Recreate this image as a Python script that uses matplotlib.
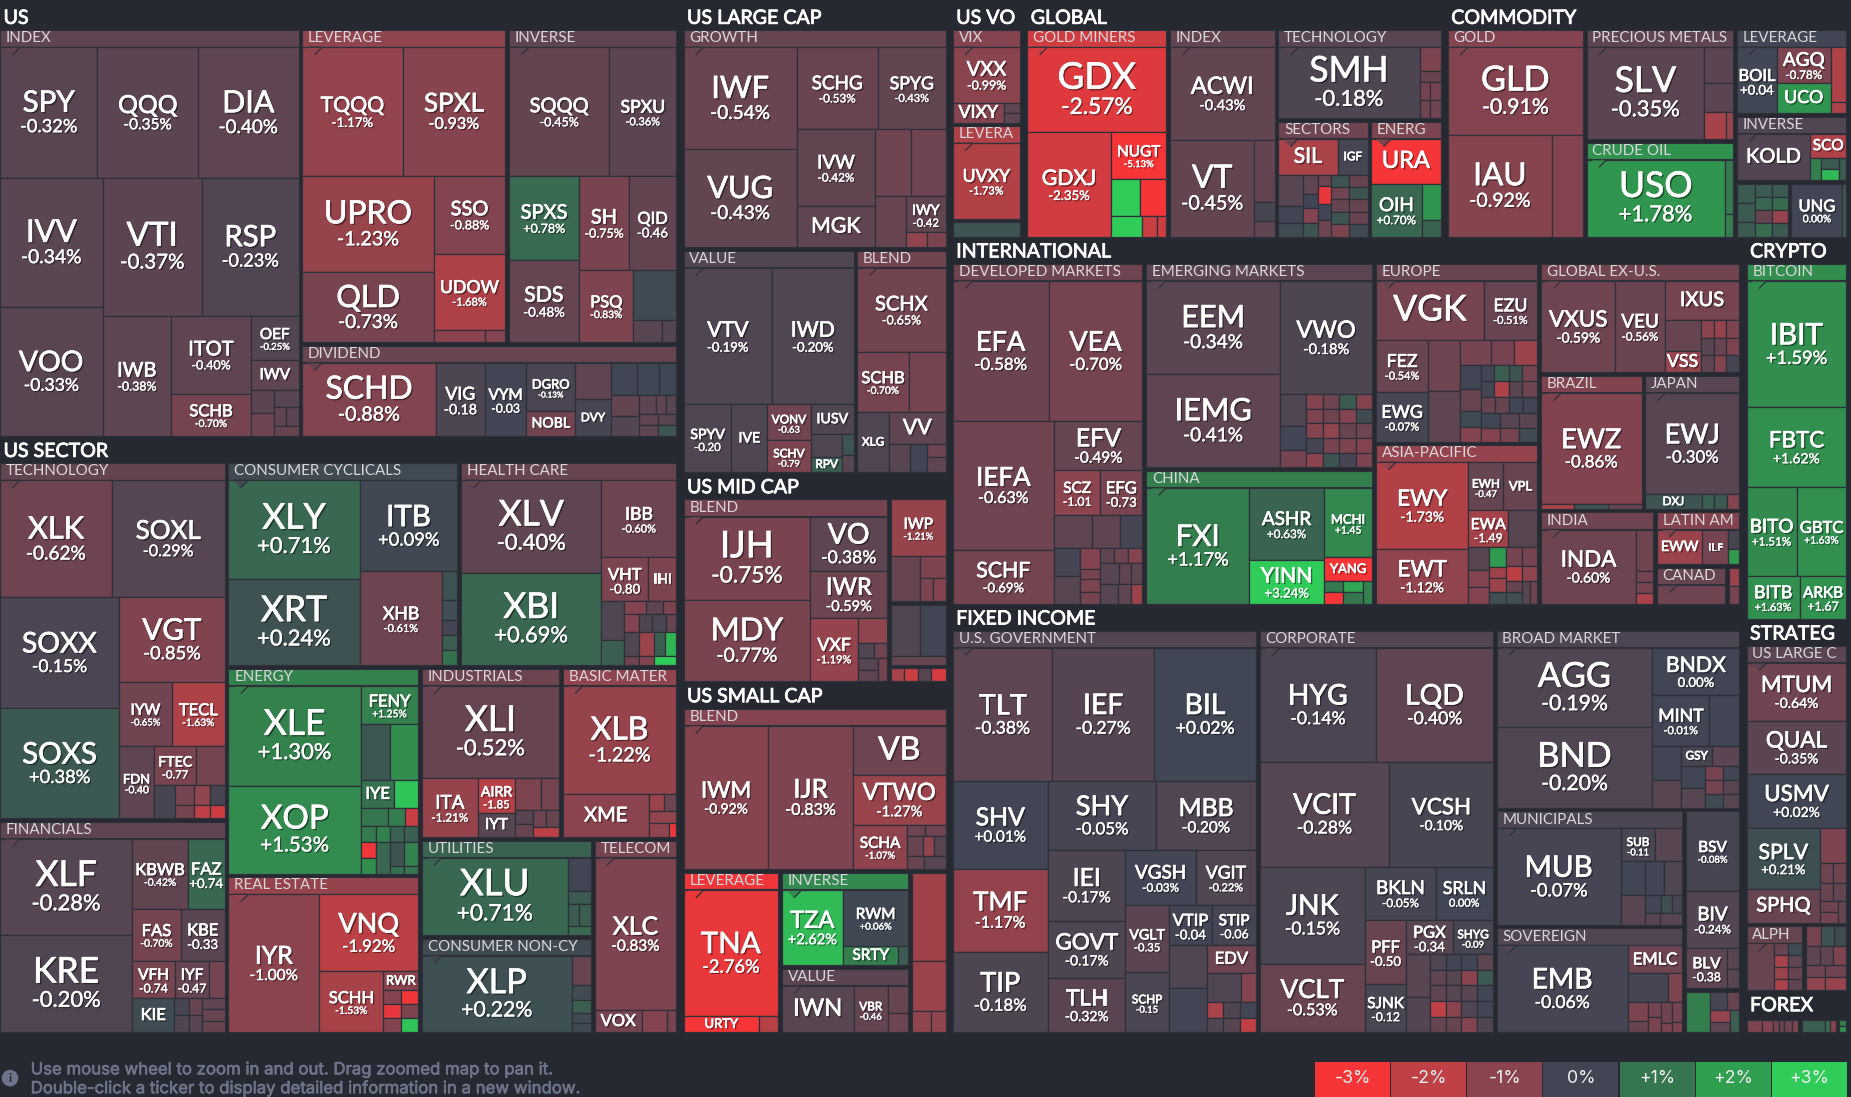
# -*- coding: utf-8 -*-
import matplotlib
matplotlib.use('Agg')
import matplotlib.pyplot as plt
import matplotlib.patheffects as pe
from matplotlib.patches import Rectangle, Polygon, Circle
import numpy as np

# tree helpers: a tile is (ticker, size, change %), sizes only matter relative to siblings
def H(*kids):
    return ('h', kids)

def V(*kids):
    return ('v', kids)

def u(size, change):
    return ('', size, change)

def G(title, size, change, kid):
    return {'title': title, 'size': size, 'change': change, 'kid': kid}

def S(title, size, kid, strip=18.5):
    return {'section': title, 'size': size, 'kid': kid, 'strip': strip}

# ---------- US
us_index = V(H(('SPY', 90, -.32), ('QQQ', 93, -.35), ('DIA', 93, -.40)),
             H(V(('IVV', 94, -.34), ('VOO', 94, -.33)),
               V(H(('VTI', 97, -.37), ('RSP', 95, -.23)),
                 H(('IWB', 58, -.38), V(('ITOT', 44, -.40), ('SCHB', 24, -.70)),
                   V(('OEF', 15, -.25), ('IWV', 10, -.40),
                     H(V(u(3.8, -.35), u(3.8, -.6)), V(u(3, -.3), H(u(1.6, -.4), u(1.6, -.35)), u(1.8, -.5))))))))
us_leverage = V(H(('TQQQ', 90, -1.17), ('SPXL', 92, -.93)),
                H(V(('UPRO', 89, -1.23), ('QLD', 64, -.73)),
                  V(('SSO', 39, -.88), ('UDOW', 38, -1.68), H(u(4.2, -1.0), u(1.7, -.9)))))
us_inverse = V(H(('SQQQ', 90, -.45), ('SPXU', 60, -.36)),
               H(V(('SPXS', 41, .78), ('SDS', 40, -.48)),
                 V(H(('SH', 32, -.75), ('QID', 31, -.46)),
                   H(('PSQ', 27, -.83), V(u(15, .1), H(u(4.5, -.3), u(2.2, -.25)))))))
us_dividend = H(('SCHD', 68, -.88), ('VIG', 25, -.18), ('VYM', 21, -.03),
                V(('DGRO', 16.4, -.13), ('NOBL', 8.6, -.65)), V(u(9, -.4), ('DVY', 9, -.05)),
                V(H(u(6, .02), u(4.9, .05), u(4, .05)),
                  H(V(u(4, -.45), u(4, -.25)),
                    V(H(u(2.2, -.35), u(1.4, -.4), u(1.3, -.3)), H(u(1.4, -.4), u(1.4, -.3)), H(u(1.5, -.4), u(1.4, .35))))))

tech = V(H(('XLK', 92, -.62), ('SOXL', 93, -.29)),
         H(V(('SOXX', 93, -.15), ('SOXS', 92, .38)),
           V(('VGT', 63, -.85),
             H(V(('IYW', 24, -.65)), ('TECL', 24, -1.63)),
             H(('FDN', 18, -.40),
               V(H(('FTEC', 11.5, -.77), u(8, -.7)),
                 H(u(4.8, -.1), V(u(2.7, -.7), u(1.8, -.7)),
                   V(H(u(2.1, -1.1), u(2.1, -.1)), H(u(1.4, -2.0), u(1.4, -2.3)))))))))
financials = H(V(('XLF', 89, -.28), ('KRE', 89, -.20)),
               V(H(('KBWB', 27, -.42), ('FAZ', 18, .74)),
                 H(('FAS', 17.6, -.70), ('KBE', 16, -.33)),
                 H(('VFH', 11, -.74), ('IYF', 9, -.47), u(4, -.7)),
                 H(('KIE', 10, .15), V(u(1.8, -.1), u(1.8, -.2)), V(u(1.5, -.5), u(1.5, -.3)), V(u(1.8, -.4), u(1.8, -.5), u(1.8, -.5)))))
cyclicals = H(V(('XLY', 92, .71), ('XRT', 80, .24)),
              V(('ITB', 63, .09),
                H(('XHB', 55, -.61), V(u(3, .25), u(2.1, .2), u(1.6, -.05), u(1.6, .5), u(1.6, .9)))))
health = H(V(('XLV', 90, -.40), ('XBI', 90, .69)),
           V(('IBB', 40, -.60), H(('VHT', 14, -.80), ('IHI', 8.6, -.8)),
             H(V(u(6, -.2), u(4, .5)),
               V(H(u(1.9, -.9), u(1.5, -.4), u(1.2, -.8)),
                 H(u(1.9, -.9), u(1.7, -.2), u(1.8, -.15), u(1.4, -.5)),
                 H(u(2.4, -.2), u(2.4, -1.3), u(1.9, .5), u(1.8, 2.5)),
                 H(u(1, -.6), u(1, -.9), u(1.5, 3))))))
energy = H(V(('XLE', 91, 1.30), ('XOP', 80, 1.53)),
           V(('FENY', 15, 1.25), H(u(11, .35), u(10.8, 1.6)), H(('IYE', 6.4, .9), u(4.6, 2.8)),
             H(u(3.4, 1.0), u(2.1, 1.2), u(1.6, -2.2)),
             H(V(u(1.65, 1.1), u(1.65, -2.9), u(1.65, 1.6)), V(u(1.6, 1.3), u(3, .7)),
               V(u(1.6, .6), u(2.3, .3), u(.7, .9)), V(u(1.6, .5), u(2.3, 1.3), u(.7, 1.0)))))
industrials = V(('XLI', 86, -.52),
                H(('ITA', 22.5, -1.21), V(('AIRR', 8.7, -1.85), ('IYT', 6, -.3)),
                  V(H(u(5.7, -.8), u(3.9, -.7)),
                    H(V(u(1.7, -.3), u(1.6, -.5)), V(H(u(1.5, -.6), u(1.5, -.5)), u(1.8, -1.9))))))
basic = V(('XLB', 85.5, -1.22),
          H(('XME', 25.5, -1.0),
            V(H(u(1.7, -1.3), u(1.5, -.6)), u(2.3, -1.1), H(u(1.9, -1.1), u(.7, -2.8)))))
utilities = H(('XLU', 79, .71), V(u(5.4, .0), u(2.2, .4), H(u(1.8, .45), u(1.8, .5)), u(1.4, .7)))
consumer_nc = H(('XLP', 79, .22), V(u(3.9, -.5), u(2, .15), u(1.7, .5), u(1.4, .1), u(1.2, .1)))
telecom = V(('XLC', 86, -.83), H(('VOX', 7.2, -.7), u(3.8, -.9), u(1.5, -.7)))
real_estate = H(('IYR', 87, -1.00),
                V(('VNQ', 53, -1.92),
                  H(('SCHH', 27, -1.53),
                    V(('RWR', 4.4, -1.0),
                      H(V(u(1.7, -.9), u(1.7, -2.7), u(1.7, -.9)), V(u(1.7, -2.9), u(1.7, -.8), u(1.7, 2.8)))))))

# ---------- large / mid / small
growth = H(V(('IWF', 81, -.54), ('VUG', 78, -.43)),
           V(H(('SCHG', 47, -.53), ('SPYG', 39, -.43)),
             H(V(('IVW', 42, -.42), ('MGK', 23, -.4)),
               V(H(u(17, -.6), u(16, -.6)),
                 H(u(11, -.5), V(('IWY', 10, -.42), H(u(2.3, -1.1), u(2, -.8))))))))
lc_value = V(H(('VTV', 85, -.19), ('IWD', 78, -.20)),
             H(('SPYV', 23, -.20), ('IVE', 17, -.2), V(('VONV', 11, -.63), ('SCHV', 10, -.79)),
               V(('IUSV', 9, -.2), H(V(u(5, -.2), ('RPV', 3.5, .5)), V(u(1.6, .3), u(1.4, -.3))))))
lc_blend = V(('SCHX', 50, -.65), H(('SCHB', 21, -.70), u(15, -.7)),
             H(('XLG', 13, -.2), V(('VV', 12.4, -.4),
               H(u(4, -.3), u(3.1, 0), V(u(1.6, -.6), u(2, -.4))))))
mid_blend = H(V(('IJH', 73, -.75), ('MDY', 71, -.77)),
              V(('VO', 29, -.38), ('IWR', 25, -.59),
                H(('VXF', 21, -1.19),
                  V(u(5, -1.1), H(u(1.6, -.2), u(1.4, -.6)),
                    H(V(u(1.7, -.3), u(1.5, -.4)), u(1.5, -.7))))))
mid_a = V(('IWP', 19, -1.21), H(u(8, -.5), V(u(3.4, -.8), H(u(1.8, -.8), u(1.8, -.9)))))
mid_b = V(H(u(8.7, -.2), u(7.6, 0)), u(2.6, -.5))
mid_c = H(u(1, -1.5), u(1, -2.2), u(1, -.3), u(1.1, -2.4))
small_blend = H(('IWM', 85, -.92), ('IJR', 85, -.83),
                V(('VB', 32, -.6), ('VTWO', 32, -1.27),
                  H(('SCHA', 17, -1.07),
                    V(H(u(1.4, -.6), u(1.6, -.6)), H(u(2.2, -.5), u(1.6, -1.1), u(1.6, -.3)), H(u(1.6, -.5), u(2, -.3))))))
small_lev = V(('TNA', 84, -2.76), H(('URTY', 8.8, -3), u(2.2, -1.8)))
small_inv = H(('TZA', 32, 2.62), V(('RWM', 25, .06), H(('SRTY', 7.4, 1.2), u(1.3, .4))))
small_val = H(('IWN', 23.4, -.3), ('VBR', 11, -.46), V(u(3.9, -.5), u(2.7, -.6)))
small_other = V(u(17.5, -1.4), u(10, -1.3), H(u(2.4, -1.1), u(1.9, -1.1)))

# ---------- volatility, global, commodity
vix = V(('VXX', 26, -.99), H(('VIXY', 7, -.9), V(u(1.1, -.4), u(1.1, -.4))))
vol_lev = ('UVXY', 59, -1.73)
vol_other = u(10, .3)
gold_miners = V(('GDX', 83, -2.57),
                H(('GDXJ', 61, -2.35),
                  V(('NUGT', 18, -5.13), H(u(7.7, 3), u(6.8, -3)), H(u(4.5, 3), u(2.2, -2.2), u(1.4, -2.2)))))
global_index = V(('ACWI', 68, -.43), H(('VT', 57, -.45), V(u(8.7, -.45), u(2.7, -.1), u(2.2, -.4))))
global_tech = H(('SMH', 72, -.18), V(u(3.6, -.8), u(1.6, -.5), H(u(1.35, -.7), u(1.35, -.7)), H(u(1.35, -.6), u(1.35, -.6))))
global_sect = V(H(('SIL', 14, -1.6), ('IGF', 7, -.05)),
                H(V(u(5.2, -.3), u(2.7, 0), u(2.3, .15)),
                  V(u(1.8, -.4), u(1.3, 0), u(1.4, -.9), u(1.3, .3)),
                  V(u(1, -.6), u(1.5, -2.8), u(1.4, 0), u(1.4, -.6)),
                  V(H(u(1.5, .3), u(1.5, -.5)), H(u(1.5, -.6), u(1.5, .3)), H(u(1.5, -.5), u(1.5, -.5)),
                    H(u(1.5, .3), u(1.5, -.5)), H(u(1.5, -.8), u(1.5, .1)))))
global_energy = V(('URA', 21, -3), H(('OIH', 18, .70), V(u(4.6, 1.8), u(2.1, .6))))
gold = V(('GLD', 83, -.91), H(('IAU', 74, -.92), u(22, -.9)))
precious = H(('SLV', 76, -.35), V(u(7.2, -.35), u(6, -.35), H(u(4.1, -1.5), u(1.4, -1.2))))
crude = H(('USO', 73, 1.78), V(u(3.1, 1.1), u(1.3, 1.2)))
comm_lev = H(('BOIL', 19, .04), V(('AGQ', 13.5, -.78), ('UCO', 11.7, 1.8)), V(u(6.1, -1.7), u(1.3, -1.6)))
comm_inv = H(('KOLD', 21, -.25), V(('SCO', 5.4, -1.7), H(u(1.5, 1.2), V(u(1.2, .4), u(1.2, 2.6)), u(1, .4))))
comm_a = H(V(u(2.3, .4), u(2.2, .4), u(1.7, .4)),
           V(u(1.5, .4), u(1.5, .7), u(1.5, -.5), u(1.5, .8)),
           V(u(1.4, .4), u(1.4, .8), u(1.4, -1.2), u(1.4, .4)))
comm_b = H(('UNG', 17.2, 0), u(1.3, .4))

# ---------- international
developed = V(H(('EFA', 94, -.58), ('VEA', 92, -.70)),
              H(V(('IEFA', 91, -.63), ('SCHF', 38, -.69)),
                V(('EFV', 30, -.49), H(('SCZ', 14.4, -1.01), ('EFG', 13.3, -.73)),
                  H(u(8.7, -.4), u(6.4, -.4), u(5.3, -.05)),
                  H(V(u(5, -.05), u(5, -.3)), V(u(2.9, -.9), u(1.5, -.7), u(1.7, -.8), u(1.7, -.7)),
                    V(H(u(1.4, -.4), u(1.5, -.6), u(1.5, -.9)), H(u(2.7, -.3), u(1.8, -.4), u(1.6, -.4)),
                      H(u(2.5, -.3), u(1.7, -.4), u(1.6, -1.3)))))))
emerging = H(V(('EEM', 88, -.34), ('IEMG', 88, -.41)),
             V(('VWO', 74, -.18),
               H(V(u(5.9, -.2), u(4.4, -.02), u(3.1, -.7)),
                 V(H(u(1.7, -.9), u(1.7, -.6), u(1.7, .4), u(1.7, -.9)),
                   H(u(1.7, -.8), u(1.7, -.6), u(1.7, -.9), u(1.7, .1)),
                   H(u(1.7, -.9), u(1.7, -1.1), u(1.7, -.5), u(1.7, -.6)),
                   H(u(1.7, -.05), u(1.7, -.7), u(1.7, -.8), u(1.7, -.9)),
                   H(u(1.7, -1.0), u(1.7, .3), u(1.7, -.05), u(1.7, -.8))))))
china = H(('FXI', 82, 1.17), V(('ASHR', 37, .63), ('YINN', 22, 3.24)),
          V(('MCHI', 23, 1.45), ('YANG', 7.8, -3),
            H(V(u(1.5, 1.1), u(1.5, -3)), V(u(1.6, 2.2), u(1.6, 1.0)), u(1.4, 1.3))))
europe = V(H(('VGK', 44, -.7), ('EZU', 22, -.51)),
           H(V(('FEZ', 19, -.54), ('EWG', 18, -.07)), V(u(11, -.6), u(11, -.4)),
             V(H(u(5.3, -.7), u(4, -.7), u(4, -1.3)),
               H(V(u(3.6, .0), u(3.2, -.5), u(2.4, .1), u(2.2, -.9)),
                 V(H(u(1.5, -.02), u(1.6, .5), u(1.5, .3), u(1.7, -.7)),
                   H(u(1.5, 0), u(1.6, -1.7), u(1.5, -.3), u(1.7, -.6)),
                   H(u(1.6, -.5), u(1.6, -.5), u(1.6, -.02), u(1.6, .0)),
                   H(u(1.9, .02), u(1.9, -.3), u(1.9, -.3)),
                   H(u(1.8, -.9), u(1.8, -.7), u(1.8, .1)))))))
asia = H(V(('EWY', 54, -1.73), ('EWT', 34, -1.12)),
         V(H(('EWH', 11.4, -.47), ('VPL', 11, -.5)), H(('EWA', 10, -1.49), u(7.3, -.3)),
           H(V(u(3.1, -.3), u(2.3, -.9), u(2.3, -.9)), V(u(2.3, 1.9), u(1.4, -1.4), u(1.6, -1.3), u(1.4, .2)),
             V(u(2, -.7), u(1.5, -1.9), u(1.2, -.5), u(1.2, .2)),
             V(u(2, -.7), u(1.5, -1.1), H(u(1.2, -.3), u(1.2, -.6))))))
ex_us = H(('VXUS', 48.5, -.59), ('VEU', 32, -.56),
          V(('IXUS', 21, -.7),
            H(V(u(8, -.5), ('VSS', 5.4, -1.2)),
              V(H(u(1.6, -1.0), u(1.6, -1.2), u(1.6, -.8)), H(u(1.6, -.3), u(1.6, -.5), u(1.6, -.8)),
                H(u(1.6, -.4), u(1.6, -.9), u(1.6, -.05))))))
brazil = V(('EWZ', 83, -.86), H(u(1.2, -1.6), u(1.2, .3), u(1.2, -.5)))
japan = V(('EWJ', 70, -.30), H(('DXJ', 6, .3), u(1.3, .5), u(1.4, .4), u(1.3, -.9)))
india = H(('INDA', 49, -.60), V(u(5.1, -.6), u(1.3, -.7), u(1.4, -.7), u(1.3, -1.6)))
latin = H(('EWW', 9.5, -1.3), ('ILF', 5.5, -.7), V(u(1.3, -.1), u(1, 1.9)))
canada = u(10, -.6)
intl_other = V(u(1.4, -1.3), u(1.3, -.7))

# ---------- fixed income
us_gov = V(H(('TLT', 92, -.38), ('IEF', 94, -.27), ('BIL', 94, .02)),
           H(V(('SHV', 58, .01), ('TMF', 55, -1.17), ('TIP', 53, -.18)),
             V(H(('SHY', 52, -.05), ('MBB', 48, -.20)),
               H(V(('IEI', 38, -.17), ('GOVT', 31, -.17), ('TLH', 29, -.32)),
                 V(H(('VGSH', 27, -.03), ('VGIT', 23, -.22)),
                   H(V(('VGLT', 20, -.35), ('SCHP', 18, -.15)),
                     V(H(('VTIP', 12, -.04), ('STIP', 12, -.06)),
                       H(V(u(11.5, -.2), u(11.5, -.03)),
                         V(('EDV', 9.5, -.6),
                           H(u(7, -.2), u(3, -.9)),
                           H(u(1.8, -1.6), u(1.9, -.2), u(1.8, -.02)),
                           H(u(1.6, -.2), u(1.7, -.3), u(1.6, -2.0)))))))))))
corporate = V(H(('HYG', 92, -.14), ('LQD', 92, -.40)),
              H(('VCIT', 94, -.28), ('VCSH', 75, -.10)),
              H(V(('JNK', 71, -.15), ('VCLT', 50, -.53)),
                V(H(('BKLN', 26, -.05), ('SRLN', 21, 0)),
                  H(V(('PFF', 18, -.50), ('SJNK', 13.6, -.12)),
                    V(H(('PGX', 11.3, -.34), ('SHYG', 9.6, -.09)),
                      H(V(u(7, -.3), u(5.8, -.25)),
                        V(H(u(1.7, -.2), u(1.7, 0), u(1.7, 0), u(1.7, -.4)),
                          H(u(1.7, -.4), u(1.7, -.3), u(1.7, -1.0), u(1.7, .4)),
                          H(u(1.7, -.4), u(1.7, -.3), u(1.7, -.3), u(1.7, 0)),
                          H(u(1.7, -2.0), u(1.7, -1.0), u(1.7, -.2), u(1.7, 0)),
                          H(u(1.7, -.5), u(1.7, -.5), u(1.7, -.9), u(1.7, -.2)))))))))
broad = H(V(('AGG', 84.5, -.19), ('BND', 86, -.20)),
          V(('BNDX', 28, 0), H(('MINT', 20, -.01), u(10.5, .0)),
            H(V(u(6.7, 0), u(5.5, -.3)),
              V(H(('GSY', 4, -.1), u(3.7, -.35)),
                H(V(u(3.6, 0), u(3.2, -.3)), V(u(1.7, -.7), u(1.7, -.7), u(1.7, .1)), V(u(1.6, 0), u(1.6, -.3), u(1.6, -.3)))))))
municipals = H(('MUB', 82, -.07),
               V(H(('SUB', 7.7, -.11), u(6, -.3)), H(u(5.7, 0), u(4.3, 0), u(4.3, -.2)),
                 H(u(5, -.3), V(H(u(2, 0), u(1.4, .2), u(1.2, -.05)), H(u(1.2, -.3), u(1.7, -.3))))))
sovereign = H(('EMB', 79, -.06),
              V(('EMLC', 10.6, -.6), H(u(7.8, -.05), u(2.8, -.8)),
                H(V(u(2.8, -.8), u(1.5, -.5)), V(u(1.4, -.7), u(1.4, -.8)), V(u(1.6, -.6), u(.7, -.8)), V(u(1.4, -.7), u(.7, -.8)))))
fi_a = V(('BSV', 28, -.08), ('BIV', 20, -.24), H(('BLV', 11, -.38), V(u(1.7, -.3), u(1.5, -.3))))
fi_b = H(u(5.6, 1.2), V(H(u(1.8, -.05), u(1.3, -.5)), H(V(u(1.4, -1.2), u(1.2, -.4)), u(1.2, .5))))

# ---------- crypto, strategy, forex
bitcoin = V(('IBIT', 89, 1.59), ('FBTC', 56, 1.62), H(('BITO', 31.5, 1.51), ('GBTC', 31, 1.63)), H(('BITB', 16, 1.63), ('ARKB', 14, 1.67)))
strat_large = V(('MTUM', 39.5, -.64), ('QUAL', 36, -.35), ('USMV', 37, .02),
                H(V(('SPLV', 30.6, .21), ('SPHQ', 17, -.5)),
                  V(u(6.2, -.8), H(u(1.8, -.6), u(1.8, -.6)), H(u(1.6, -.5), u(1.6, -.45)),
                    H(V(u(1.3, -.6), u(1.3, -.7)), u(1.2, -.5)))))
alpha = H(u(9, -.5), V(H(u(1.15, -.5), u(1.15, .1)), H(u(1.15, -1.5), u(1.15, -.4)),
                       H(u(1.15, -1.3), u(1.15, -.5)), H(u(1.15, -1.6), u(1.15, -.4))))
strat_other = V(H(u(1.7, -.7), u(1.4, .3), u(1.4, .1)), H(u(1.4, -.4), u(1.3, -.4), u(1.4, -.8)),
                H(u(1.4, -.6), u(1.5, -.6)), H(u(1.4, -1.1), u(1.5, -1.2)))
forex_a = H(u(10, -.8), u(7, -.9), u(4, -.7), u(3.5, -.5), u(5, -.6), u(4, -.8))
forex_b = H(u(18, .5), u(4, .8), u(4.5, -.9))
forex_c = V(u(3.7, 1.2), u(3.7, 1.6))

no_percent = {'VIG', 'VYM', 'QID', 'IWY', 'SPYV', 'VONV', 'SCHV', 'FTEC', 'FDN', 'FAZ', 'KBE', 'VFH', 'IYF', 'VHT',
              'AIRR', 'VBR', 'SCZ', 'EFG', 'MCHI', 'EWH', 'EWA', 'BOIL', 'VGLT', 'VTIP', 'STIP', 'SCHP', 'PGX', 'SHYG',
              'PFF', 'SJNK', 'SUB', 'BLV', 'ARKB'}
no_change = {'IWV', 'DVY', 'NOBL', 'IYE', 'IHI', 'KIE', 'XME', 'IYT', 'RWR', 'VOX', 'MGK', 'IVE', 'IUSV', 'RPV', 'XLG',
             'VV', 'VB', 'SRTY', 'URTY', 'IWN', 'VIXY', 'SIL', 'IGF', 'URA', 'UCO', 'KOLD', 'SCO', 'IXUS', 'VSS', 'VPL',
             'YANG', 'DXJ', 'EWW', 'ILF', 'EDV', 'EMLC', 'GSY', 'SPHQ', 'VGK'}

# ticker font size where the size rule misses, frame px
ticker_em = {'QQQ': 21, 'IWM': 19, 'GDX': 31, 'SMH': 30, 'GLD': 29, 'USO': 30, 'XLK': 26, 'SOXL': 22, 'TQQQ': 18, 'SQQQ': 17,
             'BOIL': 14, 'XLV': 30, 'XLY': 30, 'XLE': 30, 'XOP': 28, 'XLB': 27, 'XLU': 31, 'XLP': 29, 'KRE': 30, 'XLF': 30,
             'IJH': 31, 'MDY': 26.5, 'VWO': 20, 'EFA': 23, 'VEA': 23, 'TLT': 24, 'IEF': 24, 'BIL': 24, 'HYG': 24, 'LQD': 24,
             'AGG': 29, 'BND': 29, 'MUB': 25, 'EMB': 24, 'JNK': 24, 'VCIT': 24, 'VCSH': 19, 'EWZ': 23, 'EWJ': 23, 'IBIT': 25,
             'FXI': 25, 'VGK': 30, 'EEM': 26, 'IEMG': 26, 'VT': 27, 'ACWI': 20, 'IWF': 26, 'VUG': 26, 'VTV': 18, 'IWD': 18,
             'TNA': 25, 'IJR': 22, 'VB': 27, 'SCHD': 27, 'UPRO': 27, 'QLD': 26, 'SPXS': 17, 'SDS': 18, 'UVXY': 15, 'VXX': 17,
             'GDXJ': 18, 'ITB': 25, 'XRT': 30, 'XBI': 30, 'TZA': 20, 'URA': 20, 'SIL': 18, 'IGF': 10, 'UCO': 15, 'AGQ': 16,
             'KOLD': 17, 'SCO': 13, 'VSS': 15, 'YANG': 11, 'YINN': 18, 'IEFA': 22, 'SCHF': 18, 'EFV': 21, 'USMV': 19, 'MTUM': 19,
             'QUAL': 19, 'SPLV': 18, 'SPHQ': 17, 'BNDX': 18, 'MINT': 15, 'GSY': 10, 'TMF': 22, 'TIP': 23, 'SHV': 21, 'SHY': 23,
             'MBB': 21, 'IEI': 21, 'GOVT': 19, 'TLH': 19, 'VGSH': 16, 'VGIT': 15, 'VCLT': 22, 'BKLN': 16, 'SRLN': 15, 'VGLT': 12,
             'SCHP': 10, 'EDV': 14, 'VTIP': 14, 'STIP': 13, 'PGX': 14, 'SHYG': 10, 'PFF': 14, 'SJNK': 13, 'FAS': 14, 'KBE': 14,
             'KBWB': 14, 'FAZ': 14, 'VFH': 13, 'IYF': 13, 'KIE': 14, 'FDN': 11, 'FTEC': 12, 'IYW': 13, 'TECL': 14, 'FENY': 14,
             'IYE': 14, 'AIRR': 12, 'ITA': 16, 'IYT': 13, 'XME': 17, 'VOX': 14, 'RWR': 11, 'SCHH': 14, 'VNQ': 23, 'IYR': 21,
             'XHB': 15, 'VHT': 14, 'IHI': 12, 'IBB': 15, 'NUGT': 13, 'OIH': 16, 'VXF': 15, 'IWP': 13, 'IWR': 20, 'VO': 24,
             'DGRO': 11, 'NOBL': 12, 'DVY': 10, 'VIG': 15, 'VYM': 13, 'XLG': 10, 'VV': 18, 'RPV': 10, 'IUSV': 12, 'VONV': 10, 'SCHV': 10,
             'IVE': 12, 'SPYV': 12, 'IWY': 12, 'VTWO': 20, 'SCHA': 13, 'URTY': 11, 'SRTY': 13, 'RWM': 13, 'IWN': 20, 'VBR': 10,
             'EWH': 10, 'EWA': 13, 'VPL': 11, 'EWY': 19, 'EWT': 19, 'FEZ': 15, 'EWG': 15, 'EZU': 15, 'VXUS': 19, 'VEU': 16,
             'IXUS': 17, 'INDA': 19, 'EWW': 12, 'ILF': 9, 'DXJ': 10, 'MCHI': 11, 'ASHR': 16, 'SCZ': 13, 'EFG': 14, 'EMLC': 14,
             'SUB': 10, 'BSV': 13, 'BIV': 16, 'BLV': 13, 'UNG': 14, 'BITO': 16, 'GBTC': 14, 'BITB': 15, 'ARKB': 13, 'FBTC': 19,
             'VIXY': 15, 'VGT': 25, 'SOXX': 24, 'SOXS': 25, 'SSO': 17, 'UDOW': 15, 'SH': 17, 'QID': 14, 'PSQ': 14, 'SPXU': 15,
             'IWV': 13, 'OEF': 13, 'SCHB': 14, 'ITOT': 17, 'IWB': 17, 'SPXL': 22, 'SCHX': 17, 'SCHG': 16, 'SPYG': 15, 'IVW': 16,
             'MGK': 18, 'VOO': 24, 'VTI': 28}

steps = [-3, -2, -1, 0, 1, 2, 3]
step_colors = ['#f63538', '#bf4045', '#8b444e', '#414554', '#35764e', '#2f9e4f', '#30cc5a']
legend_labels = ['-3%', '-2%', '-1%', '0%', '+1%', '+2%', '+3%']
help_lines = ['Use mouse wheel to zoom in and out. Drag zoomed map to pan it.',
              'Double-click a ticker to display detailed information in a new window.']

# whole map
tree = H(
    V(S('US', 367, H(G('INDEX', 875, -.4, us_index),
                     V(H(G('LEVERAGE', 461, -1.1, us_leverage), G('INVERSE', 382, -.4, us_inverse)),
                       G('DIVIDEND', 251, -.5, us_dividend)))),
      S('US SECTOR', 505, H(V(G('TECHNOLOGY', 585, -.45, tech), G('FINANCIALS', 349, -.4, financials)),
                            V(H(G('CONSUMER CYCLICALS', 342, .1, cyclicals), G('HEALTH CARE', 322, -.5, health)),
                              H(V(G('ENERGY', 288, 1.3, energy), G('REAL ESTATE', 219, -1.2, real_estate)),
                                V(H(G('INDUSTRIALS', 173, -.6, industrials), G('BASIC MATER', 144, -1.1, basic)),
                                  H(V(G('UTILITIES', 121, .6, utilities), G('CONSUMER NON-CY', 120, .1, consumer_nc)),
                                    G('TELECOM', 119, -.7, telecom)))))))),
    V(S('US LARGE CAP', 397.5, V(G('GROWTH', 425, -.5, growth),
                                 H(G('VALUE', 283, -.2, lc_value), G('BLEND', 150, -.65, lc_blend)))),
      S('US MID CAP', 177, H(G('BLEND', 276, -.7, mid_blend),
                             V(G('', 44, 0, mid_a), G('', 26.5, 0, mid_b), G('', 7, 0, mid_c)))),
      S('US SMALL CAP', 297, V(G('BLEND', 315, -.9, small_blend),
                               H(G('LEVERAGE', 115, -2.9, small_lev),
                                 V(G('INVERSE', 90, 1.5, small_inv), G('VALUE', 62.5, -.35, small_val)),
                                 G('', 44, 0, small_other))))),
    V(H(S('US VO', 125, V(G('VIX', 80, -.9, vix), G('LEVERA', 80, -1.7, vol_lev), G('', 15, 0, vol_other))),
        S('GLOBAL', 705, H(G('GOLD MINERS', 214, -2.3, gold_miners), G('INDEX', 162, -.45, global_index),
                           V(G('TECHNOLOGY', 108.6, -.3, global_tech),
                             H(G('SECTORS', 78.6, -.6, global_sect), G('ENERG', 61.7, -.8, global_energy))))),
        S('COMMODITY', 680, H(G('GOLD', 208, -.9, gold),
                              V(G('PRECIOUS METALS', 120.5, -.4, precious), G('CRUDE OIL', 104.5, 1.7, crude)),
                              V(G('LEVERAGE', 70, 0, comm_lev), G('INVERSE', 54, -.2, comm_inv),
                                H(G('', 22, 0, comm_a), G('', 23.5, 0, comm_b)))))),
      H(V(S('INTERNATIONAL', 2091, H(G('DEVELOPED MARKETS', 472, -.6, developed),
                                     V(G('EMERGING MARKETS', 338, -.35, emerging), G('CHINA', 223, 1.2, china)),
                                     V(G('EUROPE', 213, -.5, europe), G('ASIA-PACIFIC', 190, -1.2, asia)),
                                     V(G('GLOBAL EX-U.S.', 161, -.65, ex_us),
                                       H(G('BRAZIL', 101, -.86, brazil), G('JAPAN', 95, -.3, japan)),
                                       H(G('INDIA', 78, -.6, india),
                                         V(G('LATIN AM', 34, -.9, latin),
                                           H(G('CANAD', 20, -.5, canada), G('', 4, 0, intl_other))))))),
          S('FIXED INCOME', 2441, H(G('U.S. GOVERNMENT', 888, -.25, us_gov), G('CORPORATE', 686, -.25, corporate),
                                    V(G('BROAD MARKET', 318, -.15, broad),
                                      H(V(G('MUNICIPALS', 158, -.15, municipals), G('SOVEREIGN', 145, -.2, sovereign)),
                                        V(G('', 74, 0, fi_a), G('', 18, 0, fi_b))))))),
        V(S('CRYPTO', 293, G('BITCOIN', 1, 1.6, bitcoin)),
          S('STRATEG', 285, V(G('US LARGE C', 202, -.35, strat_large),
                              H(G('ALPH', 28, -.5, alpha), G('', 20.6, 0, strat_other)))),
          S('FOREX', 32, H(G('', 41, 0, forex_a), G('', 28, 0, forex_b), G('', 8, 0, forex_c)), strip=21))))
)
root_weights = [579, 228, 763]

BG = '#262931'
EDGE = '#2f313a'
HELP = '#6d7389'
FONT = 'Lato'
PT = 1851 / 1568 * 0.72   # frame px -> points

plt.rcParams['font.family'] = [FONT, 'DejaVu Sans']
fig = plt.figure(figsize=(18.51, 10.97), dpi=100, facecolor=BG)
ax = fig.add_axes([0, 0, 1, 1])
ax.set_xlim(0, 1568)
ax.set_ylim(929, 0)
ax.axis('off')

rgb_steps = np.array([matplotlib.colors.to_rgb(c) for c in step_colors])
# drop shadow plus a hair of stroke, the map's text is heavier than Lato Regular
heavy = [pe.SimplePatchShadow(offset=(1.2, -1.2), shadow_rgbFace='black', alpha=0.45),
         pe.Stroke(linewidth=0.5, foreground='white'), pe.Normal()]
soft = [pe.SimplePatchShadow(offset=(1, -1), shadow_rgbFace='black', alpha=0.45),
        pe.Stroke(linewidth=0.25, foreground='white'), pe.Normal()]

def tile_color(change):
    return tuple(np.interp(change, steps, rgb_steps[:, i]) for i in range(3))

def weight(node):
    if isinstance(node, dict):
        return node['size']
    if node[0] in ('h', 'v') and not isinstance(node[1], (int, float)):
        return sum(weight(k) for k in node[1])
    return node[1]

def label(name, change, x0, y0, x1, y1):
    w, h = x1 - x0, y1 - y0
    show = name not in no_change
    em = min(0.58 * w / (len(name) * 0.64), 30)
    em = min(em, 0.46 * h if show else 0.72 * h)
    em = max(em, 7)
    em = ticker_em.get(name, em)
    cx, cy = (x0 + x1) / 2, (y0 + y1) / 2
    if not show:
        ax.text(cx, cy, name, color='white', fontsize=em * PT, ha='center', va='center', path_effects=heavy)
        return
    sub = em * (0.8 if name in no_percent else 0.62)
    d = 0.52 * em + 0.45 * sub
    ax.text(cx, cy - d / 2 + 2.5, name, color='white', fontsize=em * PT, ha='center', va='center', path_effects=heavy)
    if name in no_percent:
        text = '%+.2f' % change
    elif change == 0:
        text = '0.00%'
    else:
        text = '%+.2f%%' % change
    ax.text(cx, cy + d / 2 + 2.5, text, color='white', fontsize=sub * PT, ha='center', va='center', path_effects=soft)

def place(node, x0, y0, x1, y1):
    if isinstance(node, dict):
        if 'section' in node:
            ax.text(x0 + 6, y0 + 10, node['section'], color='white', fontsize=16.6 * PT, ha='left', va='center',
                    path_effects=[pe.Stroke(linewidth=0.6, foreground='white'), pe.Normal()])
            place(node['kid'], x0 + 1.5, y0 + node['strip'], x1 - 1.5, y1 - 1.5)
            return
        x0, y0, x1, y1 = x0 + 1.5, y0 + 1.5, x1 - 1.5, y1 - 1.5
        if node['title']:
            c = tile_color(node['change'])
            ax.add_patch(Rectangle((x0, y0), x1 - x0, 14, fc=c, ec=EDGE, lw=0.8))
            ax.text(x0 + 5, y0 + 7, node['title'], color='#d9d6da', fontsize=12.8 * PT, ha='left', va='center')
            place(node['kid'], x0, y0 + 14.5, x1, y1)
            ax.add_patch(Polygon([[x0 + 4, y0 + 14.5], [x0 + 17, y0 + 14.5], [x0 + 10.5, y0 + 21]], closed=False, fc=c, ec=EDGE, lw=0.9))
        else:
            place(node['kid'], x0, y0, x1, y1)
        return
    if node[0] in ('h', 'v') and not isinstance(node[1], (int, float)):
        kids = node[1]
        total = sum(weight(k) for k in kids)
        pos = 0
        for k in kids:
            a = pos / total
            pos += weight(k)
            b = pos / total
            if node[0] == 'h':
                place(k, x0 + a * (x1 - x0), y0, x0 + b * (x1 - x0), y1)
            else:
                place(k, x0, y0 + a * (y1 - y0), x1, y0 + b * (y1 - y0))
        return
    name, _, change = node
    ax.add_patch(Rectangle((x0, y0), x1 - x0, y1 - y0, fc=tile_color(change), ec=EDGE, lw=0.9))
    if name:
        label(name, change, x0, y0, x1, y1)

# the three root columns, sized by root_weights
left, top, right, bottom = -3, 5.5, 1567, 877
edges = left + np.cumsum([0] + root_weights) * (right - left) / sum(root_weights)
for kid, a, b in zip(tree[1], edges[:-1], edges[1:]):
    place(kid, a, top, b, bottom)

# footer
ax.add_patch(Circle((8.5, 913), 7, fc=HELP, ec='none'))
ax.text(8.5, 913, 'i', color=BG, fontsize=10.5 * PT, ha='center', va='center', weight='bold')
for i, line in enumerate(help_lines):
    ax.text(26, 906 + i * 16, line, color=HELP, fontsize=14.2 * PT, ha='left', va='center', family=['Inter', 'DejaVu Sans'],
            path_effects=[pe.Stroke(linewidth=0.5, foreground=HELP), pe.Normal()])
for i, (c, t) in enumerate(zip(step_colors, legend_labels)):
    ax.add_patch(Rectangle((1114 + i * 64.5, 899), 63.5, 31, fc=c, ec='none'))
    ax.text(1114 + i * 64.5 + 31.7, 913, t, color='#f0f0f0', fontsize=15 * PT, ha='center', va='center', family=['Inter', 'DejaVu Sans'])

fig.savefig('out.png', dpi=100, facecolor=BG)
